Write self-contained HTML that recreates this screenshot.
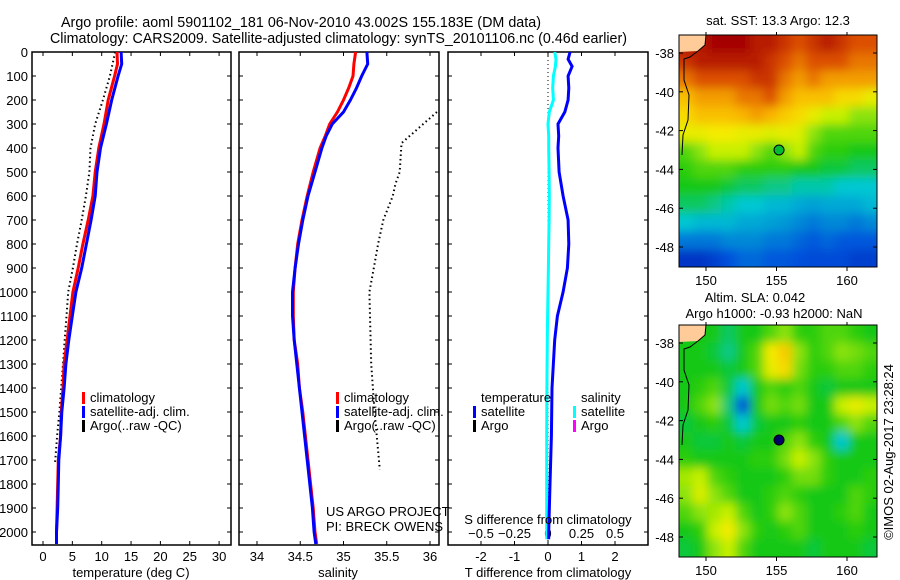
<!DOCTYPE html>
<html><head><meta charset="utf-8"><style>
body{margin:0;background:#fff}
svg{display:block;font-family:"Liberation Sans",sans-serif;font-size:13px}
</style></head><body>
<svg id="s" width="900" height="580" viewBox="0 0 900 580" xmlns="http://www.w3.org/2000/svg">
<defs>
<filter id="bl" filterUnits="userSpaceOnUse" x="600" y="0" width="300" height="580"><feGaussianBlur stdDeviation="5"/></filter>
<clipPath id="cm1"><rect x="679" y="35" width="198" height="232"/></clipPath>
<clipPath id="cm2"><rect x="679" y="325" width="198" height="232"/></clipPath>
<clipPath id="cp1"><rect x="32" y="52" width="199" height="493"/></clipPath>
<clipPath id="cp2"><rect x="239" y="52" width="200" height="493"/></clipPath>
<clipPath id="cp3"><rect x="448" y="52" width="200" height="493"/></clipPath>
</defs>
<text x="61" y="27" textLength="480" lengthAdjust="spacingAndGlyphs" style="font-size:14.5px">Argo profile: aoml 5901102_181 06-Nov-2010 43.002S 155.183E (DM data)</text>
<text x="50" y="43" textLength="577" lengthAdjust="spacingAndGlyphs" style="font-size:14.5px">Climatology: CARS2009. Satellite-adjusted climatology: synTS_20101106.nc (0.46d earlier)</text>
<g id="g"></g>
</svg>
<script>
// ---- data ----
const tDepth=[0,50,100,200,300,400,500,600,700,800,900,1000,1100,1200,1300,1400,1500,1600,1700,1800,1900,2000,2050];
const tClim=[12.6,12.7,12.2,11.1,10.4,9.5,8.9,8.5,7.7,6.8,6.0,5.1,4.6,4.1,3.6,3.4,3.1,3.0,2.6,2.5,2.4,2.3,2.3];
const tSat=[13.3,13.4,12.8,11.7,10.8,9.8,9.2,8.9,8.2,7.4,6.6,5.6,5.0,4.4,3.9,3.6,3.2,3.0,2.7,2.6,2.5,2.3,2.3];
const aDepth=[0,100,200,300,400,500,600,700,800,900,1000,1100,1200,1300,1400,1500,1600,1700,1720];
const tArgo=[12.3,11.4,10.2,8.9,8.1,7.9,7.3,6.6,5.8,5.1,4.3,4.0,3.7,3.4,3.1,2.8,2.4,2.1,2.0];
const sDepth=[0,50,100,150,200,250,300,350,400,500,600,700,800,900,1000,1100,1200,1300,1400,1500,1600,1700,1800,1900,2000,2050];
const sClim=[35.14,35.12,35.11,35.06,35.0,34.93,34.84,34.79,34.73,34.65,34.58,34.52,34.47,34.44,34.42,34.42,34.43,34.47,34.49,34.53,34.56,34.59,34.62,34.65,34.67,34.69];
const sSat=[35.27,35.28,35.21,35.15,35.08,35.0,34.87,34.8,34.75,34.67,34.59,34.53,34.48,34.44,34.41,34.41,34.43,34.46,34.49,34.52,34.55,34.58,34.61,34.64,34.66,34.68];
const saDepth=[250,380,500,550,600,700,800,900,1000,1300,1500,1740];
const sArgo=[36.08,35.67,35.65,35.6,35.57,35.46,35.4,35.35,35.3,35.32,35.36,35.42];
const dDepth=[0,30,60,100,150,200,250,300,350,400,500,600,700,800,900,1000,1100,1200,1400,1600,1800,2000,2030];
const dT=[0.66,0.6,0.72,0.6,0.62,0.6,0.5,0.3,0.32,0.3,0.33,0.45,0.6,0.62,0.58,0.45,0.28,0.2,0.12,0.1,0.06,0.02,0.02];
const dS=[0.05,0.06,0.055,0.04,0.035,0.04,0.01,0.0,0.005,0.005,0.008,0.01,0.008,0.005,0.003,0.0,-0.003,-0.005,-0.008,-0.01,-0.01,-0.01,-0.01];
const depthTicks=[0,100,200,300,400,500,600,700,800,900,1000,1100,1200,1300,1400,1500,1600,1700,1800,1900,2000];
const tTicks=[0,5,10,15,20,25,30];
const sTicks=[34,34.5,35,35.5,36];
const dTTicks=[-2,-1,0,1,2];
const dSTicks=[-0.5,-0.25,0,0.25,0.5];
const latTicks=[-38,-40,-42,-44,-46,-48];
const lonTicks=[150,155,160];
// SST grid (rows lat -37..-49, cols lon 148..161), normalised 0..1
const sst=[
[1,.95,1,1,1,.95,.95,.9,.85,.9,.95,.9,.85,.85],
[.9,.95,.95,.95,.95,.95,.9,.85,.8,.85,.85,.85,.8,.8],
[.8,.85,.85,.85,.85,.9,.9,.8,.75,.8,.75,.75,.75,.75],
[.7,.75,.75,.75,.8,.8,.85,.75,.7,.7,.7,.65,.65,.6],
[.65,.7,.7,.7,.72,.75,.72,.68,.65,.6,.55,.55,.5,.5],
[.6,.6,.62,.62,.6,.6,.58,.6,.58,.5,.45,.45,.45,.45],
[.45,.5,.55,.55,.55,.5,.45,.5,.55,.45,.42,.42,.4,.4],
[.42,.45,.45,.45,.42,.42,.42,.42,.4,.4,.38,.38,.36,.36],
[.4,.4,.4,.38,.36,.36,.34,.34,.32,.32,.32,.3,.3,.3],
[.36,.36,.34,.32,.3,.3,.28,.28,.26,.25,.26,.26,.26,.28],
[.3,.28,.28,.28,.26,.26,.25,.24,.22,.2,.22,.22,.2,.22],
[.2,.2,.2,.22,.22,.22,.2,.2,.18,.16,.18,.16,.16,.16],
[.1,.1,.12,.15,.18,.18,.16,.16,.15,.14,.14,.14,.12,.12]];
const sla=[
[.4,.4,.4,.36,.4,.4,.45,.5,.42,.42,.45,.45,.42,.4],
[.4,.4,.38,.34,.4,.45,.62,.68,.5,.42,.45,.5,.48,.45],
[.4,.4,.4,.38,.4,.45,.6,.65,.48,.42,.42,.45,.45,.42],
[.4,.42,.45,.38,.3,.4,.45,.42,.45,.4,.38,.4,.4,.4],
[.4,.45,.5,.35,.15,.4,.48,.45,.48,.4,.4,.55,.6,.55],
[.38,.4,.42,.38,.3,.38,.4,.4,.42,.4,.4,.45,.5,.45],
[.4,.38,.38,.4,.38,.4,.4,.45,.5,.42,.4,.3,.4,.4],
[.42,.4,.4,.4,.4,.42,.42,.48,.55,.5,.42,.4,.4,.4],
[.52,.55,.45,.42,.4,.4,.4,.42,.48,.48,.42,.4,.4,.42],
[.5,.58,.5,.45,.4,.4,.42,.45,.42,.4,.4,.4,.45,.42],
[.45,.5,.52,.55,.45,.4,.42,.5,.45,.4,.4,.42,.45,.4],
[.4,.42,.55,.62,.5,.42,.4,.42,.45,.4,.4,.4,.42,.4],
[.38,.4,.5,.55,.45,.4,.4,.4,.4,.38,.4,.4,.4,.38]];
// ---- helpers ----
const NS='http://www.w3.org/2000/svg';
const G=document.getElementById('g');
function mk(tag,attrs,parent){const e=document.createElementNS(NS,tag);for(const k in attrs)e.setAttribute(k,attrs[k]);(parent||G).appendChild(e);return e;}
const yD=d=>52+d*0.24;
const xT=v=>43+v*5.87;
const xS=v=>257+(v-34)*86.5;
const xDT=v=>548+v*33.5;
const xDS=v=>548+v*134;
const lonX=l=>706+(l-150)*14.1;
const latY=(l,top)=>top+18+(-38-l)*19.4;
function poly(xs,ds,xf,color,w,dash,clip,name){
  let pts=xs.map((v,i)=>xf(v).toFixed(1)+','+yD(ds[i]).toFixed(1)).join(' ');
  const e=mk('polyline',{points:pts,fill:'none',stroke:color,'stroke-width':w,'clip-path':'url(#'+clip+')'});
  if(dash)e.setAttribute('stroke-dasharray',dash);
  
  
}
function frame(x0,x1,name){
  const r=mk('rect',{x:x0,y:52,width:x1-x0,height:493,fill:'none',stroke:'#000','stroke-width':1.5});
  
  
  depthTicks.forEach(d=>{mk('line',{x1:x0,x2:x0+4,y1:yD(d),y2:yD(d),stroke:'#000'});mk('line',{x1:x1-4,x2:x1,y1:yD(d),y2:yD(d),stroke:'#000'});});
}
function xticks(vals,f,y,labY,fmt,name){
  vals.forEach(v=>{const x=f(v);
    mk('line',{x1:x,x2:x,y1:52,y2:56,stroke:'#000'});mk('line',{x1:x,x2:x,y1:541,y2:545,stroke:'#000'});
    const t=mk('text',{x:x,y:labY,'text-anchor':'middle'});t.textContent=fmt?fmt(v):v;
    
    
  });
}
function label(x,y,txt,name,anchor){const t=mk('text',{x:x,y:y,'text-anchor':anchor||'start'});t.textContent=txt;
  
  return t;}
function leg(x,y,color,txt,name){mk('rect',{x:x,y:y-10,width:3,height:12,fill:color});label(x+8,y,txt,name);}
depthTicks.forEach(d=>{label(28,yD(d)+5,String(d),'depth-tick-label','end');});
// panel 1 temperature
frame(32,231,'temperature-panel');
xticks(tTicks,xT,0,561,null,'temperature-tick-label');
poly(tArgo,aDepth,xT,'#000',2,'1.5,3','cp1','argo-temperature-line');
poly(tClim,tDepth,xT,'#f00',3,null,'cp1','climatology-temperature-line');
poly(tSat,tDepth,xT,'#00f',3,null,'cp1','satellite-temperature-line');
label(131,577,'temperature (deg C)','temperature-axis-title','middle');
leg(82,402,'#f00','climatology','legend-climatology');
leg(82,416,'#00f','satellite-adj. clim.','legend-satellite');
leg(82,430,'#000','Argo(..raw -QC)','legend-argo');
// panel 2 salinity
frame(239,439,'salinity-panel');
xticks(sTicks,xS,0,561,null,'salinity-tick-label');
poly(sArgo,saDepth,xS,'#000',2,'1.5,3','cp2','argo-salinity-line');
poly(sClim,sDepth,xS,'#f00',3,null,'cp2','climatology-salinity-line');
poly(sSat,sDepth,xS,'#00f',3,null,'cp2','satellite-salinity-line');
label(338,577,'salinity','salinity-axis-title','middle');
leg(336,402,'#f00','climatology','legend-climatology-2');
leg(336,416,'#00f','satellite-adj. clim.','legend-satellite-2');
leg(336,430,'#000','Argo(..raw -QC)','legend-argo-2');
label(326,516,'US ARGO PROJECT','project-label');
label(326,531,'PI: BRECK OWENS','pi-label');
// panel 3 differences
frame(448,648,'difference-panel');
xticks(dTTicks,xDT,0,561,null,'t-diff-tick-label');
dSTicks.forEach(v=>{label(xDS(v),538,String(v).replace('-','\u2212'),'s-diff-tick-label','middle');});
mk('line',{x1:548,x2:548,y1:52,y2:545,stroke:'#000','stroke-dasharray':'1,3'});
poly(dS.map(v=>v*4),dDepth,xDT,'#0ff',3,null,'cp3','salinity-difference-line');
poly(dT,dDepth,xDT,'#00f',3,null,'cp3','temperature-difference-line');
label(548,524,'S difference from climatology','s-diff-axis-title','middle');
label(548,577,'T difference from climatology','t-diff-axis-title','middle');
label(481,402,'temperature','legend-temperature-header');
leg(473,416,'#00f','satellite','legend-t-satellite');
leg(473,430,'#000','Argo','legend-t-argo');
label(581,402,'salinity','legend-salinity-header');
leg(573,416,'#0ff','satellite','legend-s-satellite');
leg(573,430,'#f0f','Argo','legend-s-argo');
// maps
function cmap(v){
  const st=[[0,0,0,150],[.15,0,80,220],[.3,0,200,210],[.4,20,200,20],[.55,200,240,0],[.62,245,235,0],[.72,250,180,0],[.85,220,80,0],[1,165,0,0]];
  for(let i=1;i<st.length;i++){if(v<=st[i][0]){const a=st[i-1],b=st[i],t=(v-a[0])/(b[0]-a[0]);
    return 'rgb('+[1,2,3].map(k=>Math.round(a[k]+(b[k]-a[k])*t)).join(',')+')';}}
  return 'rgb(165,0,0)';
}
function map(grid,top,clip,name,dotColor){
  const g=mk('g',{'clip-path':'url(#'+clip+')'});
  
  
  const inner=mk('g',{filter:'url(#bl)'},g);
  const cw=198/14, ch=232/13;
  grid.forEach((row,r)=>row.forEach((v,c)=>{
    let x=679+c*cw, y=top+r*ch, w=cw+0.6, h=ch+0.6;
    if(c===0){x-=12;w+=12;} if(c===13){w+=12;}
    if(r===0){y-=12;h+=12;} if(r===12){h+=12;}
    const cell=mk('rect',{x:x.toFixed(1),y:y.toFixed(1),width:w.toFixed(1),height:h.toFixed(1),fill:cmap(v)},inner);
    
    
  }));
  mk('polygon',{points:`679,${top} 706,${top} 705,${top+10} 698,${top+16} 679,${top+17}`,fill:'#fc9'},g);
  mk('polyline',{points:`706,${top} 705,${top+10} 698,${top+16} 690,${top+22} 684,${top+24} 684,${top+45} 689,${top+60} 688,${top+85} 683,${top+100} 682,${top+120}`,fill:'none',stroke:'#000','stroke-width':1},g);
  const fr=mk('rect',{x:679,y:top,width:198,height:232,fill:'none',stroke:'#000'});
  
  
  latTicks.forEach(l=>{const y=latY(l,top);mk('line',{x1:679,x2:683,y1:y,y2:y,stroke:'#000'});mk('line',{x1:873,x2:877,y1:y,y2:y,stroke:'#000'});
    label(674,y+5,String(l),'latitude-tick-label','end');});
  lonTicks.forEach(l=>{const x=lonX(l);mk('line',{x1:x,x2:x,y1:top-3,y2:top,stroke:'#000'});mk('line',{x1:x,x2:x,y1:top+232,y2:top+236,stroke:'#000'});
    label(x,top+250,String(l),'longitude-tick-label','middle');});
  const d=mk('circle',{cx:lonX(155.18),cy:latY(-43,top),r:5,fill:dotColor,stroke:'#000','stroke-width':1});
  
  
}
map(sst,35,'cm1','sst-map','#0b3');
map(sla,325,'cm2','sla-map','#006');
label(778,25,'sat. SST: 13.3 Argo: 12.3','sst-map-title','middle');
label(755,302,'Altim. SLA: 0.042','sla-map-title','middle');
label(774,318,'Argo h1000: -0.93 h2000: NaN','sla-map-subtitle','middle');
const ts=label(0,0,'©IMOS 02-Aug-2017 23:28:24','timestamp-label','middle');
ts.setAttribute('transform','translate(893,452) rotate(-90)');
</script>
</body></html>
